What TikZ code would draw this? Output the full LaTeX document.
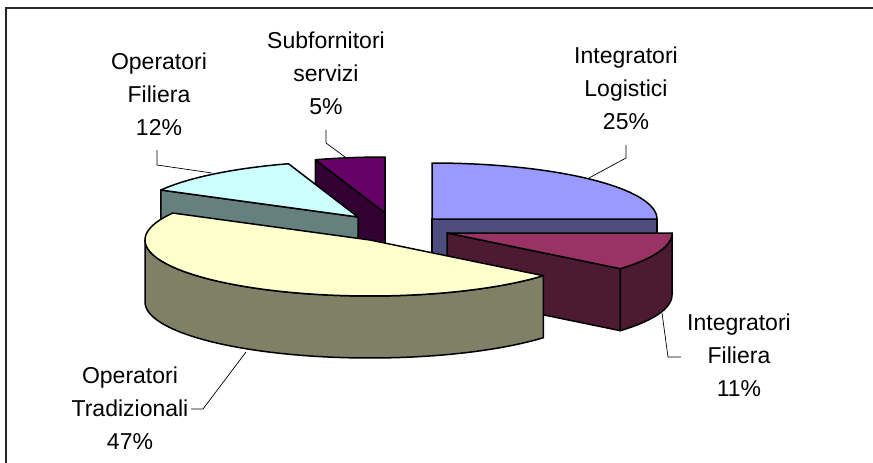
\documentclass[tikz,border=0pt]{standalone}
\usepackage{fontspec}
\setmainfont{Liberation Sans}
\definecolor{bluetop}{HTML}{9999FF}
\definecolor{blueside}{HTML}{4D4D80}
\definecolor{magtop}{HTML}{993366}
\definecolor{magside}{HTML}{4D1A33}
\definecolor{tradtop}{HTML}{FFFFCC}
\definecolor{tradside}{HTML}{808066}
\definecolor{tealtop}{HTML}{CCFFFF}
\definecolor{tealside}{HTML}{668080}
\definecolor{purtop}{HTML}{660066}
\definecolor{purside}{HTML}{330033}
\def\pieA{225}
\def\pieB{56}
\def\pieH{62}
\begin{document}
\begin{tikzpicture}[x=1pt,y=-1pt,
  slice/.style={draw=black,line width=1.5pt,line join=round},
  leader/.style={draw=black,line width=0.7pt},
  lbl/.style={align=center,font=\fontsize{23}{33}\selectfont,inner sep=0pt,anchor=base}]
\useasboundingbox (0,0) rectangle (873,463);
\fill[white] (0,0) rectangle (873,463);
\draw[line width=1.5pt,black!85] (6,463) -- (6,8) -- (873,8);

% Integratori Logistici (blue)
\filldraw[slice,fill=blueside] (432,219) -- (657,219) -- (657,281) -- (432,281) -- cycle;
\filldraw[slice,fill=bluetop] (432,219) -- plot[domain=0:90,samples=60] ({432+\pieA*sin(\x)},{219-\pieB*cos(\x)}) -- cycle;

% Subfornitori servizi (purple)
\filldraw[slice,fill=purside] (385,213) -- ({385+\pieA*sin(342)},{213-\pieB*cos(342)})
  -- ({385+\pieA*sin(342)},{213+\pieH-\pieB*cos(342)}) -- (385,275) -- cycle;
\filldraw[slice,fill=purtop] (385,213) -- plot[domain=342:360,samples=30] ({385+\pieA*sin(\x)},{213-\pieB*cos(\x)}) -- cycle;

% Operatori Filiera (teal)
\filldraw[slice,fill=tealside] (358,217) -- ({358+\pieA*sin(298.8)},{217-\pieB*cos(298.8)})
  -- ({358+\pieA*sin(298.8)},{217+\pieH-\pieB*cos(298.8)}) -- (358,279) -- cycle;
\filldraw[slice,fill=tealtop] (358,217) -- plot[domain=298.8:342,samples=40] ({358+\pieA*sin(\x)},{217-\pieB*cos(\x)}) -- cycle;

% Integratori Filiera (magenta)
\filldraw[slice,fill=magside] (447,233) -- ({447+\pieA*sin(129.6)},{233-\pieB*cos(129.6)})
  -- ({447+\pieA*sin(129.6)},{233+\pieH-\pieB*cos(129.6)}) -- (447,295) -- cycle;
\filldraw[slice,fill=magside] (672,233) -- plot[domain=90:129.6,samples=40] ({447+\pieA*sin(\x)},{233-\pieB*cos(\x)})
  -- plot[domain=129.6:90,samples=40] ({447+\pieA*sin(\x)},{233+\pieH-\pieB*cos(\x)}) -- cycle;
\filldraw[slice,fill=magtop] (447,233) -- plot[domain=90:129.6,samples=40] ({447+\pieA*sin(\x)},{233-\pieB*cos(\x)}) -- cycle;

% Operatori Tradizionali (yellow)
\filldraw[slice,fill=tradside] ({370+\pieA*sin(129.6)},{240-\pieB*cos(129.6)})
  -- plot[domain=129.6:270,samples=80] ({370+\pieA*sin(\x)},{240-\pieB*cos(\x)})
  -- plot[domain=270:129.6,samples=80] ({370+\pieA*sin(\x)},{240+\pieH-\pieB*cos(\x)}) -- cycle;
\filldraw[slice,fill=tradtop] (370,240) -- plot[domain=129.6:298.8,samples=100] ({370+\pieA*sin(\x)},{240-\pieB*cos(\x)}) -- cycle;

% labels (anchor = baseline of the last line)
\node[lbl] (lOF) at (159,135) {Operatori\\Filiera\\12\%};
\node[lbl] (lSS) at (326,114) {Subfornitori\\servizi\\5\%};
\node[lbl] (lIL) at (626,129) {Integratori\\Logistici\\25\%};
\node[lbl] (lIF) at (739,396) {Integratori\\Filiera\\11\%};
\node[lbl] (lOT) at (130,449) {Operatori\\Tradizionali\\47\%};

% leader lines
\coordinate (oOF) at (157,150); \coordinate (kOF) at (157,165); \coordinate (eOF) at (212,173);
\coordinate (oSS) at (326,130); \coordinate (kSS) at (326,143); \coordinate (eSS) at (345,157);
\coordinate (oIL) at (626,145); \coordinate (kIL) at (626,158); \coordinate (eIL) at (589,178);
\coordinate (oIF) at (681,357); \coordinate (kIF) at (668,357); \coordinate (eIF) at (662,313);
\coordinate (oOT) at (191,409); \coordinate (kOT) at (203,409); \coordinate (eOT) at (246,352);
\draw[leader] (oOF) -- (kOF) -- (eOF);
\draw[leader] (oSS) -- (kSS) -- (eSS);
\draw[leader] (oIL) -- (kIL) -- (eIL);
\draw[leader] (oIF) -- (kIF) -- (eIF);
\draw[leader] (oOT) -- (kOT) -- (eOT);
\end{tikzpicture}
\end{document}
